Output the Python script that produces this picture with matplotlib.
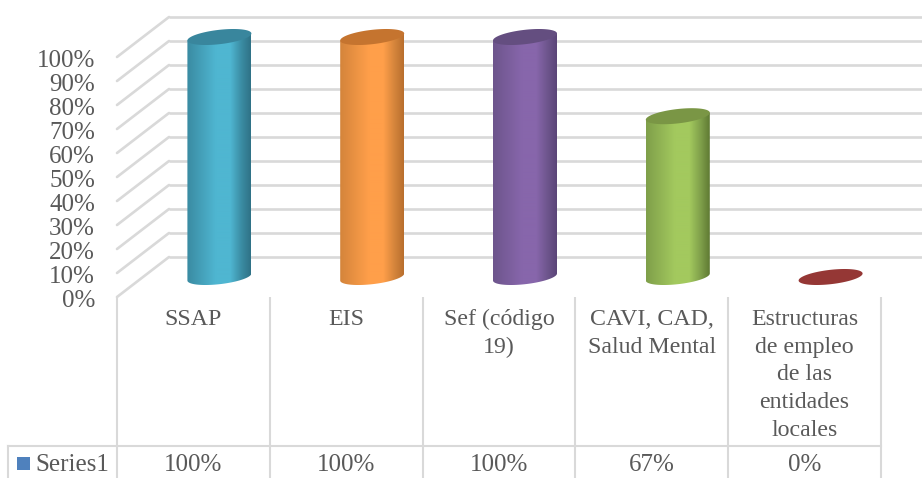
import numpy as np
import matplotlib
matplotlib.use("Agg")
import matplotlib.pyplot as plt
from matplotlib.colors import LinearSegmentedColormap
from matplotlib.path import Path
from matplotlib.patches import PathPatch
from matplotlib.transforms import Affine2D, blended_transform_factory

categories = ["SSAP", "EIS", "Sef (código\n19)", "CAVI, CAD,\nSalud Mental",
              "Estructuras\nde empleo\nde las\nentidades\nlocales"]
values = [1.0, 1.0, 1.0, 0.67, 0.0]
value_labels = ["100%", "100%", "100%", "67%", "0%"]
y_ticks = [i / 10 for i in range(11)]
y_tick_labels = [f"{i*10}%" for i in range(11)]
series_name = "Series1"
body_edge = ["#2f7287", "#b96f2e", "#5b4578", "#5f7a33", "#7a2c2a"]
body_mid = ["#3a8ba2", "#d4843b", "#6d558c", "#7f9f4a", "#953735"]
body_light = ["#4fb6d1", "#ff9f4a", "#8766ab", "#a3c95e", "#953735"]
top_colors = ["#39869d", "#c5742f", "#644e80", "#7a9645", "#953735"]

W, H = 922, 478
GRID = "#d9d9d9"
TXT = "#595959"
FONT = "Liberation Serif"
FS = 18

fig = plt.figure(figsize=(W / 100, H / 100), dpi=100, facecolor="white")
ax = fig.add_axes([143 / W, (H - 277) / H, 764 / W, 240 / H])
ax.set_xlim(-0.5, 4.5)
ax.set_ylim(0, 1)
ax.axis("off")

px = Affine2D().scale(1, -1).translate(0, H)           # reference pixels
front = ax.transData + Affine2D().translate(-26, -20)
back = ax.transData + Affine2D().translate(26, 20)
x_front_y_px = blended_transform_factory(front, px)
y_front = blended_transform_factory(px, front + Affine2D().translate(0, -4))

# walls: horizontal grid on the back wall, diagonals on the side wall
for t in y_ticks:
    ax.plot([-0.5, 4.7], [t, t], transform=back, color=GRID, lw=1.9, clip_on=False, zorder=1,
            solid_capstyle="butt")
    p0 = front.transform((-0.5, t))
    p1 = back.transform((-0.5, t))
    ax.plot([p0[0], p1[0]], [p0[1], p1[1]], transform=None, color=GRID, lw=1.9,
            clip_on=False, zorder=1, solid_capstyle="round")

for t, lab in zip(y_ticks, y_tick_labels):
    ax.text(95, t, lab, transform=y_front, ha="right", va="center", fontsize=FS,
            family=FONT, color=TXT)

# cylinders
A = 32 / (764 / 5)
B = 7.2 / 240
S = 3.5 / 240
theta = np.linspace(0, 2 * np.pi, 121)
for i, v in enumerate(values):
    ex = i + A * np.cos(theta)
    ey = B * np.sin(theta) + S * np.cos(theta)
    if v > 0:
        lower = theta[60:121]
        bx = i + A * np.cos(lower)
        by = B * np.sin(lower) + S * np.cos(lower)
        upper_x = [i + A, i - A]
        upper_y = [v + S, v - S]
        verts = np.column_stack([np.r_[bx, upper_x, bx[0]], np.r_[by, upper_y, by[0]]])
        clip = Path(verts, closed=True)
        cmap = LinearSegmentedColormap.from_list(
            "c", [(0, body_mid[i]), (0.45, body_light[i]), (0.68, body_light[i]),
                  (0.86, body_mid[i]), (1, body_edge[i])])
        im = ax.imshow(np.linspace(0, 1, 128).reshape(1, -1), cmap=cmap, aspect="auto",
                       extent=(i - A, i + A, -0.06, v + 0.06), zorder=3)
        im.set_clip_box(fig.bbox)
        im.set_clip_path(clip, transform=ax.transData)
    ax.fill(ex, ey + v, color=top_colors[i], lw=0, zorder=4, clip_on=False)
ax.set_xlim(-0.5, 4.5)
ax.set_ylim(0, 1)

# data table
edges = np.arange(-0.5, 5.0, 1.0)
for e in edges:
    ax.plot([e, e], [297, 478], transform=x_front_y_px, color=GRID, lw=1.5, clip_on=False,
            solid_capstyle="butt", zorder=1)
ax.plot([8, 881], [446, 446], transform=px, color=GRID, lw=1.5, clip_on=False, zorder=1)
ax.plot([8, 8], [446, 478], transform=px, color=GRID, lw=1.5, clip_on=False, zorder=1)

for i, (c, lab) in enumerate(zip(categories, value_labels)):
    ax.text(i, 309, c, transform=x_front_y_px, ha="center", va="top", fontsize=FS - 0.8,
            family=FONT, color=TXT, linespacing=1.42)
    ax.text(i, 465, lab, transform=x_front_y_px, ha="center", va="center", fontsize=FS,
            family=FONT, color=TXT)

ax.add_patch(PathPatch(Path([(17, 457), (30, 457), (30, 470), (17, 470), (17, 457)], closed=True),
                       transform=px, facecolor="#4f81bd", edgecolor="none", clip_on=False))
ax.text(35, 465, series_name, transform=px, ha="left", va="center", fontsize=FS,
        family=FONT, color=TXT)

fig.savefig("out.png", dpi=100)
